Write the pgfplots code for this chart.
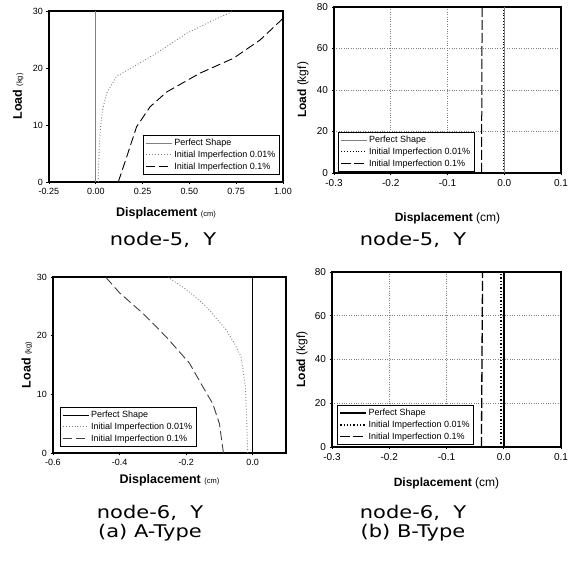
\documentclass[border=0pt]{standalone}
\usepackage{fontspec}
\setmainfont{Liberation Sans}
\newfontfamily\titlefont{DejaVu Sans}
\usepackage{pgfplots}
\pgfplotsset{compat=1.18}
\pgfplotsset{
  base/.style={scale only axis, anchor=south west,
    axis line style={line width=1.2pt},
    tick align=outside, xtick pos=bottom, ytick pos=left,
    major tick length=2.5pt, tick style={black, line width=0.7pt},
    legend cell align=left,
    legend style={font=\fontsize{9}{10}\selectfont, draw=black, line width=0.9pt, inner sep=2pt, row sep=-0.3pt},
    legend image code/.code={\draw[##1] (0cm,0cm) -- (0.9cm,0cm);},
    tick label style={font=\fontsize{9}{10}\selectfont},
    label style={font=\fontsize{12.5}{14}\selectfont},
  },
  bgrid/.style={grid=major, grid style={dotted, gray, line width=0.6pt}},
}
\begin{document}
\begin{tikzpicture}
\useasboundingbox (0,0) rectangle (570pt,564pt);
% ---------------- top left
\begin{axis}[base, at={(49pt,382pt)}, width=234pt, height=171pt,
  xmin=-0.25, xmax=1.0, ymin=0, ymax=30,
  xtick={-0.25,0,0.25,0.5,0.75,1.0}, xticklabels={-0.25,0.00,0.25,0.50,0.75,1.00},
  ytick={0,10,20,30}, yticklabels={0,10,20,30},
  xlabel={{\bfseries Displacement} {\fontsize{7.5}{8}\selectfont (cm)}},
  ylabel={{\bfseries Load} {\fontsize{7.5}{8}\selectfont (kg)}},
  xlabel style={at={(axis description cs:0.5,-0.181)}, anchor=center},
  ylabel style={at={(axis description cs:-0.132,0.5)}, anchor=center},
  legend style={at={(0.987,0.041)}, anchor=south east}]
\addplot[gray, line width=0.8pt] coordinates {(0,0) (0,30)};
\addlegendentry{Perfect Shape}
\addplot[gray, dotted, line width=0.9pt] coordinates {(0.013,0) (0.016,4) (0.022,8.5) (0.035,12.5) (0.058,15.6) (0.11,18.5) (0.2,20.2) (0.325,22.6) (0.486,26.1) (0.628,28.4) (0.717,29.7) (0.735,30)};
\addlegendentry{Initial Imperfection 0.01\%}
\addplot[black, dash pattern=on 9pt off 4pt, line width=0.9pt] coordinates {(0.12,0) (0.165,4.4) (0.218,9.7) (0.29,13.2) (0.379,15.8) (0.557,19.1) (0.735,21.7) (0.877,24.9) (1.0,28.7)};
\addlegendentry{Initial Imperfection 0.1\%}
\end{axis}
% ---------------- top right
\begin{axis}[base, bgrid, at={(334pt,391pt)}, width=227pt, height=166pt,
  xmin=-0.3, xmax=0.1, ymin=0, ymax=80,
  tick label style={font=\fontsize{10}{11}\selectfont},
  xtick={-0.3,-0.2,-0.1,0,0.1}, xticklabels={-0.3,-0.2,-0.1,0.0,0.1},
  ytick={0,20,40,60,80}, yticklabels={0,20,40,60,80},
  xlabel={{\bfseries Displacement} (cm)},
  ylabel={{\bfseries Load} (kgf)},
  label style={font=\fontsize{12}{14}\selectfont},
  xlabel style={at={(axis description cs:0.5,-0.271)}, anchor=center},
  ylabel style={at={(axis description cs:-0.137,0.5)}, anchor=center},
  legend style={at={(0.018,0.006)}, anchor=south west}]
\addplot[gray, line width=1pt] coordinates {(0,0) (0,80)};
\addlegendentry{Perfect Shape}
\addplot[black, dotted, line width=0.9pt] coordinates {(-0.002,0) (-0.002,80)};
\addlegendentry{Initial Imperfection 0.01\%}
\addplot[black, dash pattern=on 10pt off 3pt, line width=1pt] coordinates {(-0.040,0) (-0.039,80)};
\addlegendentry{Initial Imperfection 0.1\%}
\end{axis}
% ---------------- bottom left
\begin{axis}[base, at={(53pt,111pt)}, width=233pt, height=176pt,
  xmin=-0.6, xmax=0.1, ymin=0, ymax=30,
  xtick={-0.6,-0.4,-0.2,0}, xticklabels={-0.6,-0.4,-0.2,0.0},
  ytick={0,10,20,30}, yticklabels={0,10,20,30},
  xlabel={{\bfseries Displacement} {\fontsize{7.5}{8}\selectfont (cm)}},
  ylabel={{\bfseries Load} {\fontsize{7.5}{8}\selectfont (kg)}},
  xlabel style={at={(axis description cs:0.5,-0.153)}, anchor=center},
  ylabel style={at={(axis description cs:-0.112,0.5)}, anchor=center},
  legend style={at={(0.03,0.034)}, anchor=south west}]
\addplot[black, line width=1pt] coordinates {(0,0) (0,30)};
\addlegendentry{Perfect Shape}
\addplot[gray, dotted, line width=0.9pt] coordinates {(-0.015,0) (-0.018,5.6) (-0.022,11.3) (-0.035,16.4) (-0.055,18.7) (-0.08,21) (-0.14,25) (-0.2,27.9) (-0.25,29.8) (-0.253,30)};
\addlegendentry{Initial Imperfection 0.01\%}
\addplot[darkgray, dash pattern=on 9pt off 4pt, line width=0.9pt] coordinates {(-0.088,0) (-0.1,5) (-0.12,8.4) (-0.15,11.3) (-0.19,15.3) (-0.26,19.8) (-0.33,23.8) (-0.40,27.3) (-0.442,30)};
\addlegendentry{Initial Imperfection 0.1\%}
\end{axis}
% ---------------- bottom right
\begin{axis}[base, bgrid, at={(332pt,117pt)}, width=229pt, height=175pt,
  xmin=-0.3, xmax=0.1, ymin=0, ymax=80,
  tick label style={font=\fontsize{10}{11}\selectfont},
  xtick={-0.3,-0.2,-0.1,0,0.1}, xticklabels={-0.3,-0.2,-0.1,0.0,0.1},
  ytick={0,20,40,60,80}, yticklabels={0,20,40,60,80},
  xlabel={{\bfseries Displacement} (cm)},
  ylabel={{\bfseries Load} (kgf)},
  label style={font=\fontsize{12}{14}\selectfont},
  xlabel style={at={(axis description cs:0.5,-0.206)}, anchor=center},
  ylabel style={at={(axis description cs:-0.131,0.5)}, anchor=center},
  legend style={at={(0.022,0.011)}, anchor=south west}]
\addplot[black, line width=1.6pt] coordinates {(0,0) (0,80)};
\addlegendentry{Perfect Shape}
\addplot[black, dotted, line width=1.3pt] coordinates {(-0.005,0) (-0.005,80)};
\addlegendentry{Initial Imperfection 0.01\%}
\addplot[black, dash pattern=on 10pt off 3pt, line width=1.3pt] coordinates {(-0.039,0) (-0.037,80)};
\addlegendentry{Initial Imperfection 0.1\%}
\end{axis}
% ---------------- titles
\begin{scope}[every node/.style={font=\titlefont\fontsize{17.5}{20}\selectfont, xscale=1.2}]
\node at (163pt,324pt) {node-5,\ \ Y};
\node at (413pt,324pt) {node-5,\ \ Y};
\node at (150pt,51pt) {node-6,\ \ Y};
\node at (413pt,51pt) {node-6,\ \ Y};
\node at (150pt,31pt) {(a) A-Type};
\node at (413pt,31pt) {(b) B-Type};
\end{scope}
\end{tikzpicture}
\end{document}
